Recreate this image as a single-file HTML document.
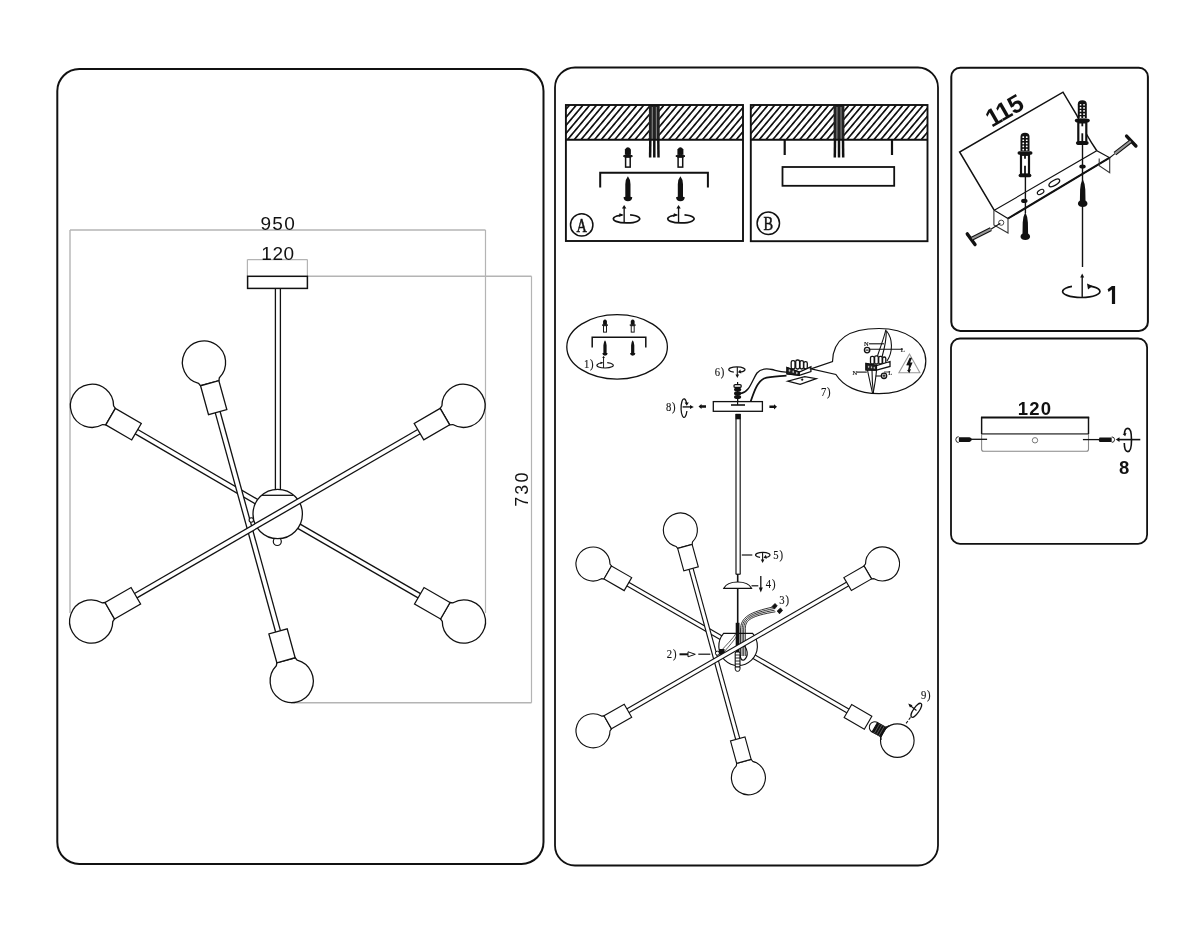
<!DOCTYPE html>
<html><head><meta charset="utf-8"><style>
html,body{margin:0;padding:0;background:#fff;width:1200px;height:933px;overflow:hidden}
svg{display:block;will-change:transform}
</style></head><body>
<svg width="1200" height="933" viewBox="0 0 1200 933">
<defs><pattern id="hatchA" patternUnits="userSpaceOnUse" width="5.17" height="10" patternTransform="translate(-4.8,0) rotate(40)"><rect width="5.17" height="10" fill="#fff"/><rect x="0" y="0" width="1.7" height="10" fill="#111"/></pattern><pattern id="hatchB" patternUnits="userSpaceOnUse" width="5.17" height="10" patternTransform="translate(-2.05,0) rotate(40)"><rect width="5.17" height="10" fill="#fff"/><rect x="0" y="0" width="1.7" height="10" fill="#111"/></pattern></defs>
<rect x="57.3" y="69" width="486.2" height="795" rx="22" ry="22" fill="none" stroke="#111" stroke-width="2"/>
<rect x="555" y="67.5" width="383" height="798" rx="20" ry="20" fill="none" stroke="#111" stroke-width="1.8"/>
<rect x="951.3" y="67.7" width="196.6" height="263.2" rx="9" ry="9" fill="none" stroke="#111" stroke-width="2"/>
<rect x="951" y="338.5" width="196.1" height="205.3" rx="9" ry="9" fill="none" stroke="#111" stroke-width="1.8"/>
<line x1="70" y1="230" x2="485.5" y2="230" stroke="#b4b4b4" stroke-width="1.4" stroke-linecap="butt" />
<line x1="70" y1="230" x2="70" y2="613" stroke="#b4b4b4" stroke-width="1.4" stroke-linecap="butt" />
<line x1="485.5" y1="230" x2="485.5" y2="613" stroke="#b4b4b4" stroke-width="1.2" stroke-linecap="butt" />
<line x1="247.4" y1="259.6" x2="307.4" y2="259.6" stroke="#b4b4b4" stroke-width="1.2" stroke-linecap="butt" />
<line x1="247.4" y1="259.6" x2="247.4" y2="276.3" stroke="#b4b4b4" stroke-width="1.2" stroke-linecap="butt" />
<line x1="307.4" y1="259.6" x2="307.4" y2="276.3" stroke="#b4b4b4" stroke-width="1.2" stroke-linecap="butt" />
<line x1="307.4" y1="276.3" x2="531.5" y2="276.3" stroke="#b4b4b4" stroke-width="1.6" stroke-linecap="butt" />
<line x1="531.5" y1="276.3" x2="531.5" y2="702.7" stroke="#b4b4b4" stroke-width="1.2" stroke-linecap="butt" />
<line x1="291" y1="702.7" x2="531.5" y2="702.7" stroke="#b4b4b4" stroke-width="1.6" stroke-linecap="butt" />
<text x="278.3" y="229.6" font-family="Liberation Sans, sans-serif" font-size="19" font-weight="normal" text-anchor="middle" fill="#111" letter-spacing="1.3">950</text>
<text x="278" y="259.6" font-family="Liberation Sans, sans-serif" font-size="19" font-weight="normal" text-anchor="middle" fill="#111" letter-spacing="0.6">120</text>
<text x="0" y="0" font-family="Liberation Sans, sans-serif" font-size="18" font-weight="normal" text-anchor="middle" fill="#111" transform="translate(528,488.6) rotate(-90)" letter-spacing="2.1">730</text>
<line x1="277.9" y1="288" x2="277.9" y2="495" stroke="#111" stroke-width="6.3" stroke-linecap="butt" />
<line x1="277.9" y1="288" x2="277.9" y2="495" stroke="#fff" stroke-width="3.7" stroke-linecap="butt" />
<rect x="247.6" y="276.3" width="59.8" height="12.1" fill="#fff" stroke="#111" stroke-width="1.5"/>
<line x1="135.2" y1="430.97" x2="277.7" y2="514" stroke="#111" stroke-width="6.3" stroke-linecap="butt" />
<line x1="135.2" y1="430.97" x2="277.7" y2="514" stroke="#fff" stroke-width="3.7" stroke-linecap="butt" />
<line x1="420.6" y1="596.5" x2="277.7" y2="514" stroke="#111" stroke-width="6.3" stroke-linecap="butt" />
<line x1="420.6" y1="596.5" x2="277.7" y2="514" stroke="#fff" stroke-width="3.7" stroke-linecap="butt" />
<circle cx="277.3" cy="541.5" r="4" fill="#fff" stroke="#111" stroke-width="1.2"/>
<circle cx="277.7" cy="514" r="24.7" fill="#fff" stroke="#111" stroke-width="1.3"/>
<line x1="262" y1="495.3" x2="293" y2="495.3" stroke="#111" stroke-width="1.3" stroke-linecap="butt" />
<line x1="217.27" y1="410.71" x2="278.43" y2="632.79" stroke="#111" stroke-width="6.3" stroke-linecap="butt" />
<line x1="217.27" y1="410.71" x2="278.43" y2="632.79" stroke="#fff" stroke-width="3.7" stroke-linecap="butt" />
<circle cx="251.3" cy="520" r="2.2" fill="#fff" stroke="#111" stroke-width="1.1"/>
<line x1="134.46" y1="596.43" x2="420.24" y2="430.87" stroke="#111" stroke-width="6.3" stroke-linecap="butt" />
<line x1="134.46" y1="596.43" x2="420.24" y2="430.87" stroke="#fff" stroke-width="3.7" stroke-linecap="butt" />
<path d="M105.79,424.83 L102.73,424.55 A21.6,21.6 0 1 1 113.6,405.89 L115.36,408.42 Z" fill="#fff" stroke="#111" stroke-width="1.3"/>
<polygon points="105.79,424.83 131.71,439.94 141.28,423.52 115.36,408.42" fill="#fff" stroke="#111" stroke-width="1.3" stroke-linejoin="miter"/>
<path d="M440.14,408.41 L441.9,405.88 A21.6,21.6 0 1 1 452.77,424.55 L449.7,424.83 Z" fill="#fff" stroke="#111" stroke-width="1.3"/>
<polygon points="440.14,408.41 414.22,423.51 423.78,439.93 449.7,424.83" fill="#fff" stroke="#111" stroke-width="1.3" stroke-linejoin="miter"/>
<path d="M114.57,618.99 L112.8,621.52 A21.6,21.6 0 1 1 102.01,602.8 L105.08,602.53 Z" fill="#fff" stroke="#111" stroke-width="1.3"/>
<polygon points="114.57,618.99 140.56,604.01 131.07,587.55 105.08,602.53" fill="#fff" stroke="#111" stroke-width="1.3" stroke-linejoin="miter"/>
<path d="M450.03,602.52 L453.1,602.79 A21.6,21.6 0 1 1 442.3,621.5 L440.53,618.98 Z" fill="#fff" stroke="#111" stroke-width="1.3"/>
<polygon points="450.03,602.52 424.05,587.52 414.55,603.98 440.53,618.98" fill="#fff" stroke="#111" stroke-width="1.3" stroke-linejoin="miter"/>
<path d="M200.55,385.75 L198.55,383.4 A21.6,21.6 0 1 1 219.38,377.67 L218.87,380.71 Z" fill="#fff" stroke="#111" stroke-width="1.3"/>
<polygon points="200.55,385.75 208.51,414.67 226.83,409.63 218.87,380.71" fill="#fff" stroke="#111" stroke-width="1.3" stroke-linejoin="miter"/>
<path d="M295.15,657.75 L297.15,660.1 A21.6,21.6 0 1 1 276.32,665.83 L276.83,662.79 Z" fill="#fff" stroke="#111" stroke-width="1.3"/>
<polygon points="295.15,657.75 287.19,628.83 268.87,633.87 276.83,662.79" fill="#fff" stroke="#111" stroke-width="1.3" stroke-linejoin="miter"/>
<rect x="565.9" y="105" width="177.1" height="34.7" fill="url(#hatchA)"/>
<rect x="648.9" y="105" width="10.8" height="34.7" fill="#222"/>
<line x1="652.3" y1="107" x2="652.2" y2="139.7" stroke="#aaa" stroke-width="0.8" stroke-linecap="butt" />
<line x1="656.3" y1="107" x2="656.4" y2="139.7" stroke="#aaa" stroke-width="0.8" stroke-linecap="butt" />
<path d="M650.3,139.7 L650.1,157.5" fill="none" stroke="#111" stroke-width="2.5"/>
<path d="M654.3,139.7 L654.3,157.5" fill="none" stroke="#111" stroke-width="2.5"/>
<path d="M658.3,139.7 L658.5,157.5" fill="none" stroke="#111" stroke-width="2.5"/>
<rect x="565.9" y="105" width="177.1" height="136" fill="none" stroke="#111" stroke-width="1.9"/>
<line x1="565.9" y1="139.7" x2="743" y2="139.7" stroke="#111" stroke-width="1.9" stroke-linecap="butt" />
<path d="M624.9,154.6 L624.9,149.6 Q627.9,145.1 630.9,149.6 L630.9,154.6 Z" fill="#111"/>
<path d="M623.3,156.1 Q627.9,152.6 632.5,156.1 L630.9,157.1 L624.9,157.1 Z" fill="#111" stroke="#111" stroke-width="1"/>
<rect x="625.6" y="157.1" width="4.6" height="10" fill="#fff" stroke="#111" stroke-width="1.5"/>
<path d="M627.9,176.2 Q630.5,179.2 630.5,184.2 L630.5,196.7 L632.3,197.2 Q631.9,201.2 627.9,201.2 Q623.9,201.2 623.5,197.2 L625.3,196.7 L625.3,184.2 Q625.3,179.2 627.9,176.2 Z" fill="#111"/>
<path d="M622.18,215 A13.2,4.1 0 1 0 630.1,214.92" fill="none" stroke="#111" stroke-width="1.7"/>
<path d="M619.54,213.37 L623.9,215 L618.62,217.06 Z" fill="#111"/>
<line x1="624.16" y1="223" x2="624.16" y2="207.4" stroke="#111" stroke-width="1.36" stroke-linecap="butt" />
<path d="M621.96,208.4 L624.16,204.9 L626.36,208.4 Z" fill="#111"/>
<path d="M677.4,154.6 L677.4,149.6 Q680.4,145.1 683.4,149.6 L683.4,154.6 Z" fill="#111"/>
<path d="M675.8,156.1 Q680.4,152.6 685,156.1 L683.4,157.1 L677.4,157.1 Z" fill="#111" stroke="#111" stroke-width="1"/>
<rect x="678.1" y="157.1" width="4.6" height="10" fill="#fff" stroke="#111" stroke-width="1.5"/>
<path d="M680.4,176.2 Q683,179.2 683,184.2 L683,196.7 L684.8,197.2 Q684.4,201.2 680.4,201.2 Q676.4,201.2 676,197.2 L677.8,196.7 L677.8,184.2 Q677.8,179.2 680.4,176.2 Z" fill="#111"/>
<path d="M676.58,215 A13.2,4.1 0 1 0 684.5,214.92" fill="none" stroke="#111" stroke-width="1.7"/>
<path d="M673.94,213.37 L678.3,215 L673.02,217.06 Z" fill="#111"/>
<line x1="678.56" y1="223" x2="678.56" y2="207.4" stroke="#111" stroke-width="1.36" stroke-linecap="butt" />
<path d="M676.36,208.4 L678.56,204.9 L680.76,208.4 Z" fill="#111"/>
<path d="M600.2,187.4 L600.2,172.8 L707.9,172.8 L707.9,187.4" fill="none" stroke="#111" stroke-width="2"/>
<circle cx="581.7" cy="224.9" r="11.2" fill="none" stroke="#111" stroke-width="1.5"/>
<text x="581.7" y="232" font-family="Liberation Serif, sans-serif" font-size="18" font-weight="normal" text-anchor="middle" fill="#111" stroke="#111" stroke-width="0.5" transform="translate(581.7,0) scale(0.8,1) translate(-581.7,0)">A</text>
<rect x="750.8" y="105" width="176.7" height="34.7" fill="url(#hatchB)"/>
<rect x="833.6" y="105" width="10.8" height="34.7" fill="#222"/>
<line x1="837" y1="107" x2="836.9" y2="139.7" stroke="#aaa" stroke-width="0.8" stroke-linecap="butt" />
<line x1="841" y1="107" x2="841.1" y2="139.7" stroke="#aaa" stroke-width="0.8" stroke-linecap="butt" />
<path d="M835,139.7 L834.8,157.5" fill="none" stroke="#111" stroke-width="2.5"/>
<path d="M839,139.7 L839,157.5" fill="none" stroke="#111" stroke-width="2.5"/>
<path d="M843,139.7 L843.2,157.5" fill="none" stroke="#111" stroke-width="2.5"/>
<rect x="750.8" y="105" width="176.7" height="136.2" fill="none" stroke="#111" stroke-width="1.9"/>
<line x1="750.8" y1="139.7" x2="927.5" y2="139.7" stroke="#111" stroke-width="1.9" stroke-linecap="butt" />
<line x1="784.7" y1="139.7" x2="784.7" y2="155" stroke="#111" stroke-width="2.2" stroke-linecap="butt" />
<line x1="892" y1="139.7" x2="892" y2="155" stroke="#111" stroke-width="2.2" stroke-linecap="butt" />
<rect x="782.5" y="167" width="111.7" height="18.8" fill="none" stroke="#111" stroke-width="1.8"/>
<circle cx="768.3" cy="223.3" r="11.2" fill="none" stroke="#111" stroke-width="1.5"/>
<text x="768.3" y="230.5" font-family="Liberation Serif, sans-serif" font-size="18" font-weight="normal" text-anchor="middle" fill="#111" stroke="#111" stroke-width="0.5" transform="translate(768.3,0) scale(0.8,1) translate(-768.3,0)">B</text>
<ellipse cx="617.1" cy="346.9" rx="50.3" ry="32.2" fill="none" stroke="#111" stroke-width="1.3"/>
<path d="M603.08,324.12 L603.08,320.92 Q605,318.04 606.92,320.92 L606.92,324.12 Z" fill="#111"/>
<path d="M602.06,325.08 Q605,322.84 607.94,325.08 L606.92,325.72 L603.08,325.72 Z" fill="#111" stroke="#111" stroke-width="0.64"/>
<rect x="603.53" y="325.72" width="2.94" height="6.4" fill="#fff" stroke="#111" stroke-width="0.96"/>
<path d="M605,340.3 Q606.61,342.16 606.61,345.26 L606.61,353.01 L607.73,353.32 Q607.48,355.8 605,355.8 Q602.52,355.8 602.27,353.32 L603.39,353.01 L603.39,345.26 Q603.39,342.16 605,340.3 Z" fill="#111"/>
<path d="M630.78,324.12 L630.78,320.92 Q632.7,318.04 634.62,320.92 L634.62,324.12 Z" fill="#111"/>
<path d="M629.76,325.08 Q632.7,322.84 635.64,325.08 L634.62,325.72 L630.78,325.72 Z" fill="#111" stroke="#111" stroke-width="0.64"/>
<rect x="631.23" y="325.72" width="2.94" height="6.4" fill="#fff" stroke="#111" stroke-width="0.96"/>
<path d="M632.7,340.3 Q634.31,342.16 634.31,345.26 L634.31,353.01 L635.43,353.32 Q635.18,355.8 632.7,355.8 Q630.22,355.8 629.97,353.32 L631.09,353.01 L631.09,345.26 Q631.09,342.16 632.7,340.3 Z" fill="#111"/>
<path d="M592.2,347.5 L592.2,337.2 L645.8,337.2 L645.8,347.5" fill="none" stroke="#111" stroke-width="1.5"/>
<path d="M602.33,362.74 A8.2,2.7 0 1 0 607.25,362.68" fill="none" stroke="#111" stroke-width="1.2"/>
<path d="M600.69,361.66 L603.4,362.74 L600.12,364.09 Z" fill="#111"/>
<line x1="603.56" y1="368" x2="603.56" y2="357.3" stroke="#111" stroke-width="0.96" stroke-linecap="butt" />
<path d="M602.24,357.9 L603.56,355.8 L604.88,357.9 Z" fill="#111"/>
<text x="0" y="0" transform="translate(584,367.5) scale(0.8,1)" font-family="Liberation Serif, serif" font-size="13.3" letter-spacing="1" fill="#111" stroke="#111" stroke-width="0.15">1)</text>
<path d="M733.82,372.11 A8.1,2.7 0 1 1 739.49,372.17" fill="none" stroke="#111" stroke-width="1.3"/>
<path d="M740.29,369.56 L737.89,372.37 L741.29,373.47 Z" fill="#111"/>
<line x1="737.3" y1="366.9" x2="737.3" y2="375.1" stroke="#111" stroke-width="1.1" stroke-linecap="butt" />
<path d="M735.5,374.6 L737.3,378.1 L739.1,374.6 Z" fill="#111"/>
<text x="0" y="0" transform="translate(714.7,375.7) scale(0.8,1)" font-family="Liberation Serif, serif" font-size="13.3" letter-spacing="1" fill="#111" stroke="#111" stroke-width="0.15">6)</text>
<line x1="737.6" y1="382" x2="737.6" y2="402" stroke="#111" stroke-width="1.2" stroke-linecap="butt" />
<rect x="734" y="384.6" width="7.2" height="2.8" rx="1.2" fill="#fff" stroke="#111" stroke-width="1.3"/>
<ellipse cx="737.6" cy="389.6" rx="3.6" ry="2.1" fill="#111"/>
<ellipse cx="737.6" cy="393.4" rx="3.6" ry="2.1" fill="#111"/>
<ellipse cx="737.6" cy="397" rx="3.6" ry="2.1" fill="#111"/>
<path d="M740.5,393.5 C750,392 752,380 757,373 C761,368 767,368.5 772,369.5 C778,371 782,372.5 787.5,372" fill="none" stroke="#111" stroke-width="1.3"/>
<path d="M750.5,402 C754,392 757,382 764,378.5 C770,376.5 778,376.5 786.5,375.7" fill="none" stroke="#111" stroke-width="1.8"/>
<rect x="713.3" y="401.6" width="49.1" height="9.7" fill="#fff" stroke="#111" stroke-width="1.3"/>
<line x1="731" y1="405" x2="745" y2="405" stroke="#111" stroke-width="1.6" stroke-linecap="butt" />
<line x1="737.6" y1="398" x2="737.6" y2="405" stroke="#111" stroke-width="1.2" stroke-linecap="butt" />
<path d="M706,405.3 L701.5,405.3 L701.5,404 L698.5,406.5 L701.5,409 L701.5,407.7 L706,407.7 Z" fill="#111"/>
<path d="M769.4,405.5 L774,405.5 L774,404.2 L777,406.8 L774,409.4 L774,408.1 L769.4,408.1 Z" fill="#111"/>
<text x="0" y="0" transform="translate(666,411.4) scale(0.8,1)" font-family="Liberation Serif, serif" font-size="13.3" letter-spacing="1" fill="#111" stroke="#111" stroke-width="0.15">8)</text>
<path d="M686.6,403.2 A3,9.3 0 1 0 686.9,411" fill="none" stroke="#111" stroke-width="1.25"/>
<path d="M684.6,402.6 L688.8,402.6 L686.8,405.8 Z" fill="#111"/>
<line x1="682.6" y1="406.9" x2="690.5" y2="406.9" stroke="#333" stroke-width="1.6" stroke-linecap="butt" />
<path d="M690,404.9 L693.8,406.9 L690,408.9 Z" fill="#111"/>
<line x1="738.1" y1="414" x2="738.1" y2="574.2" stroke="#111" stroke-width="5.35" stroke-linecap="butt" />
<line x1="738.1" y1="414" x2="738.1" y2="574.2" stroke="#fff" stroke-width="3.0500000000000003" stroke-linecap="butt" />
<line x1="735.8" y1="574.2" x2="740.4" y2="574.2" stroke="#111" stroke-width="1.1" stroke-linecap="butt" />
<rect x="735.6" y="413.8" width="5" height="5.5" fill="#111"/>
<line x1="737.7" y1="574" x2="737.7" y2="623" stroke="#111" stroke-width="1.6" stroke-linecap="butt" />
<line x1="741.8" y1="555" x2="752.3" y2="555" stroke="#111" stroke-width="1.2" stroke-linecap="butt" />
<path d="M760.06,557.42 A7.2,2.6 0 1 1 765.1,557.47" fill="none" stroke="#111" stroke-width="1.2"/>
<path d="M765.9,554.87 L763.5,557.67 L766.9,558.77 Z" fill="#111"/>
<line x1="762.6" y1="552.4" x2="762.6" y2="560" stroke="#111" stroke-width="1.1" stroke-linecap="butt" />
<path d="M760.8,559.5 L762.6,563 L764.4,559.5 Z" fill="#111"/>
<text x="0" y="0" transform="translate(773.3,558.5) scale(0.8,1)" font-family="Liberation Serif, serif" font-size="13.3" letter-spacing="1" fill="#111" stroke="#111" stroke-width="0.15">5)</text>
<path d="M723.8,588.3 Q727,582 737.7,582 Q748.5,582 751.5,588.3 Z" fill="#fff" stroke="#111" stroke-width="1.2"/>
<line x1="751.5" y1="585.8" x2="758.3" y2="585.8" stroke="#111" stroke-width="1.2" stroke-linecap="butt" />
<line x1="760.8" y1="576" x2="760.8" y2="589" stroke="#111" stroke-width="1.3" stroke-linecap="butt" />
<path d="M758.8,587.5 L760.8,592.5 L762.8,587.5 Z" fill="#111"/>
<text x="0" y="0" transform="translate(765.8,587.8) scale(0.8,1)" font-family="Liberation Serif, serif" font-size="13.3" letter-spacing="1" fill="#111" stroke="#111" stroke-width="0.15">4)</text>
<line x1="626.8" y1="583.45" x2="738.1" y2="647.5" stroke="#111" stroke-width="5.35" stroke-linecap="butt" />
<line x1="626.8" y1="583.45" x2="738.1" y2="647.5" stroke="#fff" stroke-width="3.0500000000000003" stroke-linecap="butt" />
<line x1="849.04" y1="711.67" x2="738.1" y2="647.5" stroke="#111" stroke-width="5.35" stroke-linecap="butt" />
<line x1="849.04" y1="711.67" x2="738.1" y2="647.5" stroke="#fff" stroke-width="3.0500000000000003" stroke-linecap="butt" />
<path d="M723.6,633.4 L752.6,633.4 A19.3,19.3 0 1 1 723.6,633.4 Z" fill="#fff" stroke="#111" stroke-width="1.15"/>
<rect x="735.7" y="622.8" width="3.8" height="30" fill="#111"/>
<rect x="735.2" y="652" width="4.8" height="15" rx="1" fill="#fff" stroke="#111" stroke-width="1.1"/>
<line x1="735.2" y1="655" x2="740" y2="655" stroke="#111" stroke-width="0.9" stroke-linecap="butt" />
<line x1="735.2" y1="658" x2="740" y2="658" stroke="#111" stroke-width="0.9" stroke-linecap="butt" />
<line x1="735.2" y1="661" x2="740" y2="661" stroke="#111" stroke-width="0.9" stroke-linecap="butt" />
<line x1="735.2" y1="664" x2="740" y2="664" stroke="#111" stroke-width="0.9" stroke-linecap="butt" />
<path d="M735.2,667 L740,667 L740,669 A2.4,2.4 0 0 1 735.2,669 Z" fill="#fff" stroke="#111" stroke-width="1"/>
<path d="M740.5,656 L740.5,630 C740.5,617 750,612 773,607" fill="none" stroke="#111" stroke-width="0.85"/>
<path d="M742.1,656 L742.1,629.52 C742.1,617.96 750.48,613.28 773.8,608.6" fill="none" stroke="#111" stroke-width="0.85"/>
<path d="M743.7,656 L743.7,629.04 C743.7,618.92 750.96,614.56 774.6,610.2" fill="none" stroke="#111" stroke-width="0.85"/>
<path d="M745.3,656 L745.3,628.56 C745.3,619.88 751.44,615.84 775.4,611.8" fill="none" stroke="#111" stroke-width="0.85"/>
<path d="M721,651 C726,645 732,640 737,632" fill="none" stroke="#111" stroke-width="0.7"/>
<path d="M724,652 C729,646 734,641 738,634" fill="none" stroke="#111" stroke-width="0.7"/>
<path d="M742,644 C748,648 749,656 744,660 C741,661 740,657 740.5,655" fill="none" stroke="#111" stroke-width="1.2"/>
<path d="M772,606.5 L775,603.5 L777.2,605.8 L774.5,609 Z" fill="#111" stroke="#111" stroke-width="0.8"/>
<path d="M777.2,611 L780.5,608 L782.5,610.5 L779.5,613.8 Z" fill="#111" stroke="#111" stroke-width="0.8"/>
<text x="0" y="0" transform="translate(779.3,604.3) scale(0.8,1)" font-family="Liberation Serif, serif" font-size="13.3" letter-spacing="1" fill="#111" stroke="#111" stroke-width="0.15">3)</text>
<line x1="690.72" y1="567.61" x2="738.08" y2="740.19" stroke="#111" stroke-width="5.35" stroke-linecap="butt" />
<line x1="690.72" y1="567.61" x2="738.08" y2="740.19" stroke="#fff" stroke-width="3.0500000000000003" stroke-linecap="butt" />
<circle cx="717.4" cy="653.2" r="2" fill="#fff" stroke="#111" stroke-width="1"/>
<rect x="719" y="649" width="5.5" height="5.5" fill="#111"/>
<text x="0" y="0" transform="translate(666.8,657.5) scale(0.8,1)" font-family="Liberation Serif, serif" font-size="13.3" letter-spacing="1" fill="#111" stroke="#111" stroke-width="0.15">2)</text>
<line x1="679.5" y1="654.3" x2="688" y2="654.3" stroke="#111" stroke-width="2" stroke-linecap="butt" />
<path d="M688,651.8 L695.3,654.3 L688,656.8 Z" fill="#fff" stroke="#111" stroke-width="1"/>
<line x1="698.3" y1="654.2" x2="710.3" y2="654.2" stroke="#111" stroke-width="1.2" stroke-linecap="butt" />
<line x1="626.79" y1="711.32" x2="848.71" y2="583.38" stroke="#111" stroke-width="5.35" stroke-linecap="butt" />
<line x1="626.79" y1="711.32" x2="848.71" y2="583.38" stroke="#fff" stroke-width="3.0500000000000003" stroke-linecap="butt" />
<path d="M603.99,578.98 L601.52,578.71 A17,17 0 1 1 610,563.98 L611.48,565.98 Z" fill="#fff" stroke="#111" stroke-width="1.15"/>
<polygon points="603.99,578.98 624.19,590.6 631.67,577.6 611.48,565.98" fill="#fff" stroke="#111" stroke-width="1.15" stroke-linejoin="miter"/>
<path d="M864.03,565.93 L865.5,563.92 A17,17 0 1 1 874.02,578.63 L871.55,578.91 Z" fill="#fff" stroke="#111" stroke-width="1.15"/>
<polygon points="864.03,565.93 843.87,577.6 851.38,590.58 871.55,578.91" fill="#fff" stroke="#111" stroke-width="1.15" stroke-linejoin="miter"/>
<path d="M611.48,728.84 L610,730.84 A17,17 0 1 1 601.54,716.1 L604.01,715.83 Z" fill="#fff" stroke="#111" stroke-width="1.15"/>
<polygon points="611.48,728.84 631.68,717.24 624.22,704.23 604.01,715.83" fill="#fff" stroke="#111" stroke-width="1.15" stroke-linejoin="miter"/>
<path d="M677.67,548.38 L676.1,546.45 A17,17 0 1 1 692.49,541.95 L692.13,544.41 Z" fill="#fff" stroke="#111" stroke-width="1.15"/>
<polygon points="677.67,548.38 683.83,570.85 698.3,566.88 692.13,544.41" fill="#fff" stroke="#111" stroke-width="1.15" stroke-linejoin="miter"/>
<path d="M751.13,759.42 L752.7,761.35 A17,17 0 1 1 736.31,765.85 L736.67,763.39 Z" fill="#fff" stroke="#111" stroke-width="1.15"/>
<polygon points="751.13,759.42 744.97,736.95 730.5,740.92 736.67,763.39" fill="#fff" stroke="#111" stroke-width="1.15" stroke-linejoin="miter"/>
<polygon points="871.84,716.2 851.67,704.53 844.16,717.51 864.33,729.18" fill="#fff" stroke="#111" stroke-width="1.15" stroke-linejoin="miter"/>
<circle cx="897.3" cy="740.6" r="16.8" fill="#fff" stroke="#111" stroke-width="1.15"/>
<path d="M885.9,727.1 L889.2,725.8 M880.3,736.5 L881.2,739.8" stroke="#111" stroke-width="1.1"/>
<path d="M877.5,722.5 L886.5,727.5 L881,737 L872,732 Z" fill="#111" stroke="#111" stroke-width="1"/>
<line x1="879.75" y1="723.75" x2="874.25" y2="733.25" stroke="#888" stroke-width="0.6" stroke-linecap="butt" />
<line x1="882" y1="725" x2="876.5" y2="734.5" stroke="#888" stroke-width="0.6" stroke-linecap="butt" />
<line x1="884.25" y1="726.25" x2="878.75" y2="735.75" stroke="#888" stroke-width="0.6" stroke-linecap="butt" />
<path d="M877.5,722.5 A5.4,5.4 0 0 0 872,732 Z" fill="#fff" stroke="#111" stroke-width="1.1"/>
<ellipse cx="916.3" cy="710.3" rx="8.3" ry="2.8" transform="rotate(-55 916.3 710.3)" fill="none" stroke="#111" stroke-width="1.2"/>
<line x1="906.1" y1="723.4" x2="911.5" y2="716" stroke="#111" stroke-width="1.1" stroke-linecap="butt" stroke-dasharray="3,1.5"/>
<line x1="916.5" y1="710.5" x2="909.5" y2="705" stroke="#111" stroke-width="1.1" stroke-linecap="butt" />
<path d="M908.2,703.6 L912.5,705.2 L910,707.6 Z" fill="#111"/>
<text x="0" y="0" transform="translate(921,698.9) scale(0.8,1)" font-family="Liberation Serif, serif" font-size="13.3" letter-spacing="1" fill="#111" stroke="#111" stroke-width="0.15">9)</text>
<path d="M787.7,381.2 L800.2,384.4 L816.3,378.6 L804.7,376.7 Z" fill="#fff" stroke="#111" stroke-width="1.2"/>
<circle cx="802.2" cy="379.6" r="0.9" fill="#111" stroke="#111" stroke-width="0.5"/>
<rect x="791.2" y="360.6" width="3.8" height="8.4" rx="1.7" fill="#fff" stroke="#111" stroke-width="1.3"/>
<rect x="795.7" y="360" width="3.9" height="9" rx="1.7" fill="#fff" stroke="#111" stroke-width="1.3"/>
<rect x="800" y="360.6" width="3.5" height="8.4" rx="1.7" fill="#fff" stroke="#111" stroke-width="1.3"/>
<rect x="803.8" y="361.6" width="3.5" height="7.4" rx="1.7" fill="#fff" stroke="#111" stroke-width="1.3"/>
<path d="M787,367.5 L799.3,372 L810.9,366.8 L810.9,371.5 L799.3,375.3 L787,373.8 Z" fill="#fff" stroke="#111" stroke-width="1.3"/>
<path d="M787,367.5 L799.3,372 L799.3,375.3 L787,373.8 Z" fill="#222" stroke="#111" stroke-width="1.2"/>
<ellipse cx="789.5" cy="370.5" rx="0.8" ry="1.2" fill="#bbb"/>
<ellipse cx="793.2" cy="371.8" rx="0.8" ry="1.2" fill="#bbb"/>
<ellipse cx="796.8" cy="373" rx="0.8" ry="1.2" fill="#bbb"/>
<text x="0" y="0" transform="translate(821,395.5) scale(0.8,1)" font-family="Liberation Serif, serif" font-size="13.3" letter-spacing="1" fill="#111" stroke="#111" stroke-width="0.15">7)</text>
<path d="M811,368.9 L832.5,361.5 C833,337 853,328.5 879,328.5 C906,328.5 925.8,342 925.8,361 C925.8,380 906,393.7 879,393.7 C858,393.7 843,386 835.9,374.5 Z" fill="#fff" stroke="#111" stroke-width="1.2"/>
<path d="M885.9,329.5 C884,338 880,348 877.5,356" fill="none" stroke="#111" stroke-width="1.1"/>
<path d="M886.3,330.5 C886.5,340 884,350 882,357" fill="none" stroke="#111" stroke-width="1.1"/>
<path d="M886.6,331 C893,339 893,352 887,361" fill="none" stroke="#111" stroke-width="1.1"/>
<path d="M867.5,370 C869,378 871,386 872.5,393" fill="none" stroke="#111" stroke-width="1.1"/>
<path d="M872,370 C872,378 872.5,386 873.5,393" fill="none" stroke="#111" stroke-width="1.1"/>
<path d="M876.5,370 C876,378 874.5,386 873.2,393" fill="none" stroke="#111" stroke-width="1.1"/>
<line x1="869" y1="343.8" x2="884" y2="343.8" stroke="#111" stroke-width="1.1" stroke-linecap="butt" />
<line x1="869.8" y1="349.2" x2="902.8" y2="349.2" stroke="#111" stroke-width="1.1" stroke-linecap="butt" />
<circle cx="867.1" cy="350.1" r="2.7" fill="#fff" stroke="#111" stroke-width="1.3"/>
<line x1="865.5" y1="350.1" x2="868.7" y2="350.1" stroke="#111" stroke-width="1.1" stroke-linecap="butt" />
<text x="864" y="346.3" font-family="Liberation Serif, sans-serif" font-size="6.5" font-weight="normal" text-anchor="start" fill="#111" stroke="#111" stroke-width="0.2">N</text>
<text x="900.8" y="351.8" font-family="Liberation Serif, sans-serif" font-size="6.5" font-weight="normal" text-anchor="start" fill="#111" stroke="#111" stroke-width="0.2">L</text>
<line x1="857" y1="372.1" x2="866.8" y2="372.1" stroke="#111" stroke-width="1.1" stroke-linecap="butt" />
<line x1="875.8" y1="376" x2="886" y2="376" stroke="#111" stroke-width="1.1" stroke-linecap="butt" />
<line x1="884" y1="372" x2="890" y2="372" stroke="#111" stroke-width="0.8" stroke-linecap="butt" />
<circle cx="884" cy="375.8" r="2.7" fill="#fff" stroke="#111" stroke-width="1.3"/>
<line x1="882.4" y1="375.8" x2="885.6" y2="375.8" stroke="#111" stroke-width="1" stroke-linecap="butt" />
<line x1="884" y1="374.2" x2="884" y2="377.4" stroke="#111" stroke-width="1" stroke-linecap="butt" />
<text x="852.6" y="374.6" font-family="Liberation Serif, sans-serif" font-size="6.5" font-weight="normal" text-anchor="start" fill="#111" stroke="#111" stroke-width="0.2">N</text>
<text x="888.3" y="374.6" font-family="Liberation Serif, sans-serif" font-size="6.5" font-weight="normal" text-anchor="start" fill="#111" stroke="#111" stroke-width="0.2">L</text>
<rect x="870.5" y="356.3" width="3.7" height="7.7" rx="1.5" fill="#fff" stroke="#111" stroke-width="1.3"/>
<rect x="874.6" y="355.8" width="3.7" height="8.2" rx="1.5" fill="#fff" stroke="#111" stroke-width="1.3"/>
<rect x="878.7" y="356.3" width="3.5" height="7.7" rx="1.5" fill="#fff" stroke="#111" stroke-width="1.3"/>
<rect x="882.6" y="357" width="3.2" height="7" rx="1.5" fill="#fff" stroke="#111" stroke-width="1.3"/>
<path d="M866,363.5 L876.5,365.5 L890,361.5 L890,366.5 L876.5,370.2 L866,369.8 Z" fill="#fff" stroke="#111" stroke-width="1.3"/>
<path d="M866,363.5 L876.5,365.5 L876.5,370.2 L866,369.8 Z" fill="#222" stroke="#111" stroke-width="1.2"/>
<ellipse cx="868.6" cy="366.8" rx="0.7" ry="1.1" fill="#bbb"/>
<ellipse cx="871.5" cy="367.3" rx="0.7" ry="1.1" fill="#bbb"/>
<ellipse cx="874.3" cy="367.8" rx="0.7" ry="1.1" fill="#bbb"/>
<path d="M909.5,354 L898.9,372.7 L919.9,372.7 Z" fill="none" stroke="#999" stroke-width="1.1"/>
<path d="M909.6,357.8 L906.2,365.3 L909,365.5 L908,370.2 L906.8,369.8 L909.3,373.2 L911,369 L909.6,369.6 L912.6,362.6 L910.2,362.4 L912,357.8 Z" fill="#111"/>
<path d="M994.3,210.3 L959.6,152 L1063,92.2 L1077,115.7 Q1086,135 1096.8,150.7" fill="none" stroke="#111" stroke-width="1.5"/>
<text x="0" y="0" font-family="Liberation Sans, sans-serif" font-size="25" font-weight="bold" text-anchor="middle" fill="#111" transform="translate(1008.5,118) rotate(-30)" letter-spacing="-0.5">115</text>
<path d="M994.3,210.3 L1096.8,150.7 L1109.7,157.7 L1008,218.5 Z" fill="#fff" stroke="#111" stroke-width="1.1"/>
<line x1="1008" y1="218.5" x2="1109.7" y2="157.7" stroke="#111" stroke-width="2.0" stroke-linecap="butt" />
<path d="M993.9,211 L993.9,225 L1008,233 L1008,218.5" fill="none" stroke="#333" stroke-width="1.1"/>
<path d="M1099.2,158.5 L1099.2,165.8 L1109.7,172.8 L1109.7,157.7" fill="none" stroke="#333" stroke-width="1.1"/>
<circle cx="1001.2" cy="222.7" r="2.6" fill="none" stroke="#444" stroke-width="1"/>
<ellipse cx="1040.6" cy="192" rx="3.6" ry="2.1" transform="rotate(-30 1040.6 192)" fill="#fff" stroke="#111" stroke-width="1.1"/>
<ellipse cx="1054.3" cy="182.9" rx="6" ry="2.5" transform="rotate(-30 1054.3 182.9)" fill="#fff" stroke="#111" stroke-width="1.3"/>
<path d="M1020.5,150.9 L1020.5,136.7 Q1020.5,132.7 1025,132.7 Q1029.5,132.7 1029.5,136.7 L1029.5,150.9 Z" fill="#111"/>
<rect x="1022.4" y="136.3" width="1.7" height="1.7" rx="0.5" fill="#fff"/>
<rect x="1025.9" y="136.3" width="1.7" height="1.7" rx="0.5" fill="#fff"/>
<rect x="1022.4" y="139.4" width="1.7" height="1.7" rx="0.5" fill="#fff"/>
<rect x="1025.9" y="139.4" width="1.7" height="1.7" rx="0.5" fill="#fff"/>
<rect x="1022.4" y="142.5" width="1.7" height="1.7" rx="0.5" fill="#fff"/>
<rect x="1025.9" y="142.5" width="1.7" height="1.7" rx="0.5" fill="#fff"/>
<rect x="1022.4" y="145.6" width="1.7" height="1.7" rx="0.5" fill="#fff"/>
<rect x="1025.9" y="145.6" width="1.7" height="1.7" rx="0.5" fill="#fff"/>
<rect x="1022.4" y="148.7" width="1.7" height="1.7" rx="0.5" fill="#fff"/>
<rect x="1025.9" y="148.7" width="1.7" height="1.7" rx="0.5" fill="#fff"/>
<rect x="1017.5" y="151.2" width="15" height="3.6" rx="1.8" fill="#111"/>
<rect x="1021" y="154.8" width="8" height="19.8" fill="#fff" stroke="#111" stroke-width="2.2"/>
<line x1="1025" y1="154.7" x2="1025" y2="158.7" stroke="#111" stroke-width="1.8" stroke-linecap="butt" />
<line x1="1025" y1="165.7" x2="1025" y2="174.7" stroke="#111" stroke-width="1.8" stroke-linecap="butt" />
<rect x="1018.6" y="173.7" width="12.8" height="3.6" rx="1.8" fill="#111"/>
<path d="M1077.8,118.5 L1077.8,104.3 Q1077.8,100.3 1082.3,100.3 Q1086.8,100.3 1086.8,104.3 L1086.8,118.5 Z" fill="#111"/>
<rect x="1079.7" y="103.9" width="1.7" height="1.7" rx="0.5" fill="#fff"/>
<rect x="1083.2" y="103.9" width="1.7" height="1.7" rx="0.5" fill="#fff"/>
<rect x="1079.7" y="107" width="1.7" height="1.7" rx="0.5" fill="#fff"/>
<rect x="1083.2" y="107" width="1.7" height="1.7" rx="0.5" fill="#fff"/>
<rect x="1079.7" y="110.1" width="1.7" height="1.7" rx="0.5" fill="#fff"/>
<rect x="1083.2" y="110.1" width="1.7" height="1.7" rx="0.5" fill="#fff"/>
<rect x="1079.7" y="113.2" width="1.7" height="1.7" rx="0.5" fill="#fff"/>
<rect x="1083.2" y="113.2" width="1.7" height="1.7" rx="0.5" fill="#fff"/>
<rect x="1079.7" y="116.3" width="1.7" height="1.7" rx="0.5" fill="#fff"/>
<rect x="1083.2" y="116.3" width="1.7" height="1.7" rx="0.5" fill="#fff"/>
<rect x="1074.8" y="118.8" width="15" height="3.6" rx="1.8" fill="#111"/>
<rect x="1078.3" y="122.4" width="8" height="19.8" fill="#fff" stroke="#111" stroke-width="2.2"/>
<line x1="1082.3" y1="122.3" x2="1082.3" y2="126.3" stroke="#111" stroke-width="1.8" stroke-linecap="butt" />
<line x1="1082.3" y1="133.3" x2="1082.3" y2="142.3" stroke="#111" stroke-width="1.8" stroke-linecap="butt" />
<rect x="1075.9" y="141.3" width="12.8" height="3.6" rx="1.8" fill="#111"/>
<line x1="1025.4" y1="177" x2="1025.4" y2="213" stroke="#111" stroke-width="1.4" stroke-linecap="butt" />
<line x1="1082.5" y1="144" x2="1082.5" y2="267" stroke="#111" stroke-width="1.4" stroke-linecap="butt" />
<ellipse cx="1024.3" cy="200.9" rx="3.2" ry="2.1" fill="#111"/>
<ellipse cx="1082.5" cy="166.5" rx="3.2" ry="2.1" fill="#111"/>
<path d="M1025.3,212 Q1027.5,216 1027.9,222.6 L1028.1,233.5 Q1030.3,234.5 1030.1,237 Q1029.3,240 1025.3,240 Q1021.3,240 1020.5,237 Q1020.3,234.5 1022.5,233.5 L1022.7,222.6 Q1023.1,216 1025.3,212 Z" fill="#111"/>
<path d="M1082.7,179 Q1084.9,183 1085.3,189.6 L1085.5,200.5 Q1087.7,201.5 1087.5,204 Q1086.7,207 1082.7,207 Q1078.7,207 1077.9,204 Q1077.7,201.5 1079.9,200.5 L1080.1,189.6 Q1080.5,183 1082.7,179 Z" fill="#111"/>
<path d="M967.3,233.9 L975,244.6" stroke="#111" stroke-width="3.4" stroke-linecap="round"/>
<path d="M972,238.6 L990.9,229.2" stroke="#111" stroke-width="4.2"/>
<path d="M972,238.6 L990.9,229.2" stroke="#999" stroke-width="2"/>
<line x1="990.9" y1="229.2" x2="1000.3" y2="223.2" stroke="#111" stroke-width="1.1" stroke-linecap="butt" />
<path d="M1126.6,136.1 L1135.9,146" stroke="#111" stroke-width="3.4" stroke-linecap="round"/>
<path d="M1130.7,141.3 L1114.9,153.6" stroke="#111" stroke-width="4.2"/>
<path d="M1130.7,141.3 L1114.9,153.6" stroke="#999" stroke-width="2"/>
<line x1="1114.9" y1="153.6" x2="1109.7" y2="157.7" stroke="#111" stroke-width="1.1" stroke-linecap="butt" />
<path d="M1072,286.3 A18.7,6 0 1 0 1090,286.2" fill="none" stroke="#111" stroke-width="1.7"/>
<path d="M1087,283.5 L1092.5,286 L1088,289.5 Z" fill="#111"/>
<line x1="1082.2" y1="297.5" x2="1082.2" y2="276" stroke="#111" stroke-width="1.4" stroke-linecap="butt" />
<path d="M1080.2,277.5 L1082.2,273.5 L1084.2,277.5 Z" fill="#111"/>
<path d="M1111.9,285.9 L1115.1,285.9 L1115.1,304 L1111.9,304 L1111.9,289.6 L1108.6,291.9 L1107.6,289.2 Z" fill="#111"/>
<text x="1035" y="414.6" font-family="Liberation Sans, sans-serif" font-size="18.5" font-weight="bold" text-anchor="middle" fill="#111" letter-spacing="1.2">120</text>
<path d="M981.6,417.7 L981.6,449.3 Q981.6,451.3 983.6,451.3 L1086.5,451.3 Q1088.5,451.3 1088.5,449.3 L1088.5,417.7" fill="none" stroke="#888" stroke-width="1.1"/>
<line x1="981.6" y1="433.9" x2="1088.5" y2="433.9" stroke="#666" stroke-width="1.6" stroke-linecap="butt" />
<line x1="981" y1="417.6" x2="1089.2" y2="417.6" stroke="#111" stroke-width="2.0" stroke-linecap="butt" />
<line x1="981.6" y1="417" x2="981.6" y2="434" stroke="#111" stroke-width="1.4" stroke-linecap="butt" />
<line x1="1088.5" y1="417" x2="1088.5" y2="434" stroke="#111" stroke-width="1.4" stroke-linecap="butt" />
<circle cx="1035" cy="440.3" r="2.7" fill="none" stroke="#777" stroke-width="1"/>
<path d="M958.6,437.2 L969.5,437.2 Q971.4,437.6 972,439.6 Q971.4,441.6 969.5,442 L958.6,442 Z" fill="#111"/>
<path d="M958.6,436.6 Q955.8,436.8 955.8,439.6 Q955.8,442.4 958.6,442.6" fill="#fff" stroke="#111" stroke-width="0.9"/>
<line x1="971" y1="439.3" x2="987.1" y2="439.3" stroke="#111" stroke-width="1.3" stroke-linecap="butt" />
<line x1="1082.9" y1="439.6" x2="1099" y2="439.6" stroke="#111" stroke-width="1.3" stroke-linecap="butt" />
<path d="M1099.5,437.4 L1111.8,437.4 L1111.8,441.9 L1099.5,441.9 Q1098,439.6 1099.5,437.4 Z" fill="#111"/>
<path d="M1111.8,436.8 Q1114.6,437.2 1114.6,439.6 Q1114.6,442.2 1111.8,442.5" fill="#fff" stroke="#111" stroke-width="0.9"/>
<line x1="1118" y1="439.6" x2="1140.3" y2="439.6" stroke="#111" stroke-width="1.6" stroke-linecap="butt" />
<path d="M1115.8,439.6 L1119.5,437.2 L1119.5,442 Z" fill="#111"/>
<path d="M1124.6,434.5 Q1124.3,428.4 1127.9,428.4 Q1131.5,428.4 1131.5,440 Q1131.5,451.6 1127.9,451.6 Q1124.3,451.6 1124.3,443" fill="none" stroke="#111" stroke-width="1.6"/>
<path d="M1122.6,434 L1125.2,436.3 L1126.5,433 Z" fill="#111"/>
<text x="1124.2" y="474.2" font-family="Liberation Sans, sans-serif" font-size="18.5" font-weight="bold" text-anchor="middle" fill="#111" >8</text>
</svg></body></html>
